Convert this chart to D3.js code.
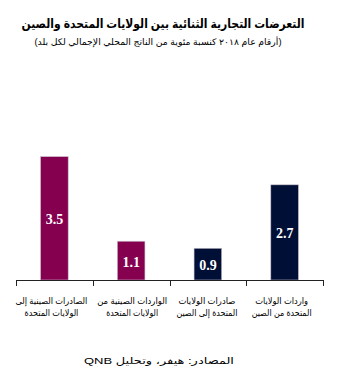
<!DOCTYPE html>
<html><head><meta charset="utf-8">
<script src="https://cdn.jsdelivr.net/npm/d3@7"></script>
<style>body{margin:0;background:#fff}svg{display:block}</style>
</head><body>
<script>
const title = "التعرضات التجارية الثنائية بين الولايات المتحدة والصين";
const subtitle = "(أرقام عام ٢٠١٨ كنسبة مئوية من الناتج المحلي الإجمالي لكل بلد)";
const source = "المصادر: هيفر، وتحليل QNB";
const categories = ["cnExp", "cnImp", "usExp", "usImp"];
const labelLines = [
  ["الصادرات الصينية إلى", "الولايات المتحدة"],
  ["الواردات الصينية من", "الولايات المتحدة"],
  ["صادرات الولايات", "المتحدة إلى الصين"],
  ["واردات الولايات", "المتحدة من الصين"]
];
const values = [3.5, 1.1, 0.9, 2.7];
const colors = ["#860050", "#860050", "#000f35", "#000f35"];

// layout (text widths measured from reference)
const labelWidths = [[72, 54], [70, 52], [57, 61], [53, 60]];
const labelShift = [-3, 1, -1, -3];

const W = 352, H = 375;
const FONT = "Arial, 'DejaVu Sans', sans-serif";
const svg = d3.select("body").append("svg").attr("width", W).attr("height", H);
const x = d3.scaleBand().domain(categories).range([16, 323]).padding(0);
const y = d3.scaleLinear().domain([0, 4]).range([280, 139]);
const barW = x.bandwidth() * 0.36;

svg.append("text").attr("x", 163).attr("y", 28).attr("text-anchor", "middle")
  .attr("direction", "rtl").style("font-family", FONT)
  .style("font-weight", "bold").style("font-size", "12.5px")
  .attr("textLength", 283).attr("lengthAdjust", "spacingAndGlyphs").text(title);
svg.append("text").attr("x", 158).attr("y", 45).attr("text-anchor", "middle")
  .attr("direction", "rtl").style("font-family", FONT)
  .style("font-size", "9px")
  .attr("textLength", 247).attr("lengthAdjust", "spacingAndGlyphs").text(subtitle);

svg.selectAll("rect.bar").data(values).join("rect").attr("class", "bar")
  .attr("x", (d, i) => x(categories[i]) + (x.bandwidth() - barW) / 2)
  .attr("y", d => y(d)).attr("width", barW).attr("height", d => y(0) - y(d))
  .attr("fill", (d, i) => colors[i]).attr("stroke", "#c9c0cc").attr("stroke-width", 0.6);

svg.selectAll("text.val").data(values).join("text").attr("class", "val")
  .attr("x", (d, i) => x(categories[i]) + x.bandwidth() / 2)
  .attr("y", d => (y(d) + y(0)) / 2 + 6).attr("text-anchor", "middle")
  .attr("fill", "#fff").style("font-family", "'Liberation Serif', 'Times New Roman', serif")
  .style("font-weight", "bold").style("font-size", "14px").text(d => d.toFixed(1));

// axis
const ax = svg.append("g").attr("stroke", "#222").attr("stroke-width", 1);
ax.append("line").attr("x1", x.range()[0]).attr("x2", x.range()[1]).attr("y1", y(0) + 0.5).attr("y2", y(0) + 0.5);
const tickXs = categories.map(c => x(c)).concat([x(categories[categories.length - 1]) + x.bandwidth()]);
ax.selectAll("line.t").data(tickXs).join("line").attr("class", "t")
  .attr("x1", d => Math.round(d) + 0.5).attr("x2", d => Math.round(d) + 0.5)
  .attr("y1", y(0)).attr("y2", y(0) + 6);

const lbl = svg.append("g").style("font-family", FONT).style("font-size", "9px").attr("fill", "#000");
labelLines.forEach((lines, i) => {
  lines.forEach((t, j) => {
    lbl.append("text").attr("x", x(categories[i]) + x.bandwidth() / 2 + labelShift[i])
      .attr("y", 304 + j * 12).attr("text-anchor", "middle").attr("direction", "rtl")
      .attr("textLength", labelWidths[i][j]).attr("lengthAdjust", "spacingAndGlyphs").text(t);
  });
});

svg.append("text").attr("x", 159).attr("y", 364).attr("text-anchor", "middle")
  .attr("direction", "rtl").style("font-family", FONT)
  .style("font-size", "9.5px")
  .attr("textLength", 150).attr("lengthAdjust", "spacingAndGlyphs").text(source);
</script>
</body></html>
